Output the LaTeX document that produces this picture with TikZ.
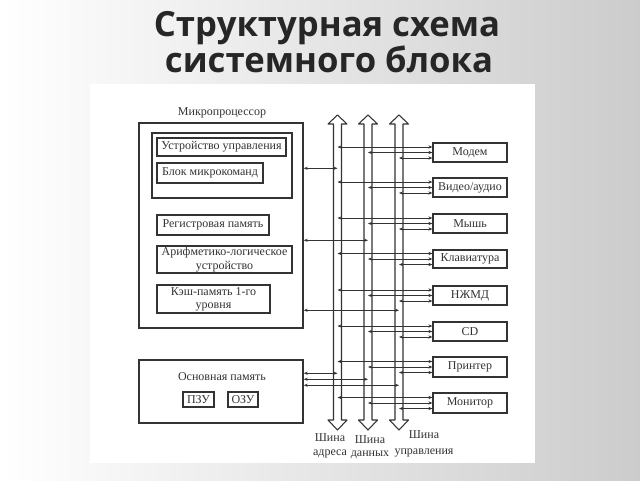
\documentclass[tikz,border=0pt]{standalone}
\usepackage{fontspec}
\setmainfont{Liberation Serif}
\newfontfamily\titlefont{Open Sans}
\usetikzlibrary{fit,calc,arrows.meta}
\definecolor{ink}{HTML}{333333}
\begin{document}
\begin{tikzpicture}[x=0.75pt,y=-0.75pt,
  box/.style={draw=ink, line width=0.9pt, inner sep=0pt},
  lbl/.style={font=\fontsize{9}{10}\selectfont, text=ink, align=center, inner sep=0pt},
  txt/.style={label={[lbl]center:#1}},
  conn/.style={draw=ink, line width=0.6pt, {Stealth[length=3pt,width=2.4pt]}-{Stealth[length=3pt,width=2.4pt]}},
  bus/.style={draw=ink, line width=0.8pt, fill=white, line join=round},
  ttl/.style={font=\titlefont\bfseries\fontsize{26}{30}\selectfont, text=black!85, anchor=base}
]
\useasboundingbox (0,0) rectangle (640,480);
\shade[left color=white, right color=black!20] (0,0) rectangle (640,480);
\fill[white] (90,84) rectangle (535,463);

% title
\node[ttl] (t1) at (327,36) {Структурная схема};
\node[ttl] (t2) at (329,72) {системного блока};

% microprocessor
\node[box, line width=1.1pt, fit={(139,123) (303,328)}] (mp) {};
\node[lbl] (mpl) at (222,113) {Микропроцессор};
\node[box, fit={(152,133) (292,198)}] (cug) {};
\node[box, fit={(157,138) (286,156)}, txt={Устройство управления}] (cu) {};
\node[box, fit={(157,163) (263,183)}, txt={Блок микрокоманд}] (mc) {};
\node[box, fit={(157,215) (269,235)}, txt={Регистровая память}] (reg) {};
\node[box, fit={(157,246) (292,273)}, txt={Арифметико-логическое\\устройство}] (alu) {};
\node[box, fit={(157,285) (270,313)}, txt={Кэш-память 1-го\\уровня}] (cache) {};

% main memory
\node[box, line width=1.1pt, fit={(139,360) (303,423)}] (mm) {};
\node[lbl] (mml) at (222,377) {Основная память};
\node[box, fit={(183,392) (214,407)}, txt={ПЗУ}] (rom) {};
\node[box, fit={(228,392) (258,407)}, txt={ОЗУ}] (ram) {};

% buses
\foreach \c/\n in {337.5/b1, 368/b2, 399/b3}{
  \draw[bus] (\c-4,124) -- (\c-9.5,124) -- (\c,115) -- (\c+9.5,124) -- (\c+4,124)
    -- (\c+4,420) -- (\c+9.5,420) -- (\c,430) -- (\c-9.5,420) -- (\c-4,420) -- cycle;
  \coordinate (\n) at (\c,124);
}
\node[lbl] (l1) at (330,446) {Шина\\адреса};
\node[lbl] (l2) at (370,447) {Шина\\данных};
\node[lbl] (l3) at (424,444) {Шина\\[2pt]управления};

% devices
\node[box, fit={(433,143) (507,162)}, txt={Модем}] (d1) {};
\node[box, fit={(433,178) (507,197)}, txt={Видео/аудио}] (d2) {};
\node[box, fit={(433,214) (507,233)}, txt={Мышь}] (d3) {};
\node[box, fit={(433,250) (507,268)}, txt={Клавиатура}] (d4) {};
\node[box, fit={(433,286) (507,305)}, txt={НЖМД}] (d5) {};
\node[box, fit={(433,322) (507,341)}, txt={CD}] (d6) {};
\node[box, fit={(433,357) (507,377)}, txt={Принтер}] (d7) {};
\node[box, fit={(433,393) (507,413)}, txt={Монитор}] (d8) {};

\foreach \n in {d1,d2,d3,d4,d5,d6,d7,d8}{
  \draw[conn] ($(\n.west)+(0,-5.5)$) -- ($(b1 |- \n.west)+(0,-5.5)$);
  \draw[conn] (\n.west) -- (b2 |- \n.west);
  \draw[conn] ($(\n.west)+(0,5.5)$) -- ($(b3 |- \n.west)+(0,5.5)$);
}

% CPU to buses
\draw[conn] ($(mp.north east)+(0,46)$) -- ($(b1 |- mp.north east)+(0,46)$);
\draw[conn] ($(mp.north east)+(0,118)$) -- ($(b2 |- mp.north east)+(0,118)$);
\draw[conn] ($(mp.north east)+(0,188)$) -- ($(b3 |- mp.north east)+(0,188)$);

% main memory to buses
\draw[conn] ($(mm.north east)+(0,14)$) -- ($(b1 |- mm.north east)+(0,14)$);
\draw[conn] ($(mm.north east)+(0,20)$) -- ($(b2 |- mm.north east)+(0,20)$);
\draw[conn] ($(mm.north east)+(0,26)$) -- ($(b3 |- mm.north east)+(0,26)$);
\end{tikzpicture}
\end{document}
